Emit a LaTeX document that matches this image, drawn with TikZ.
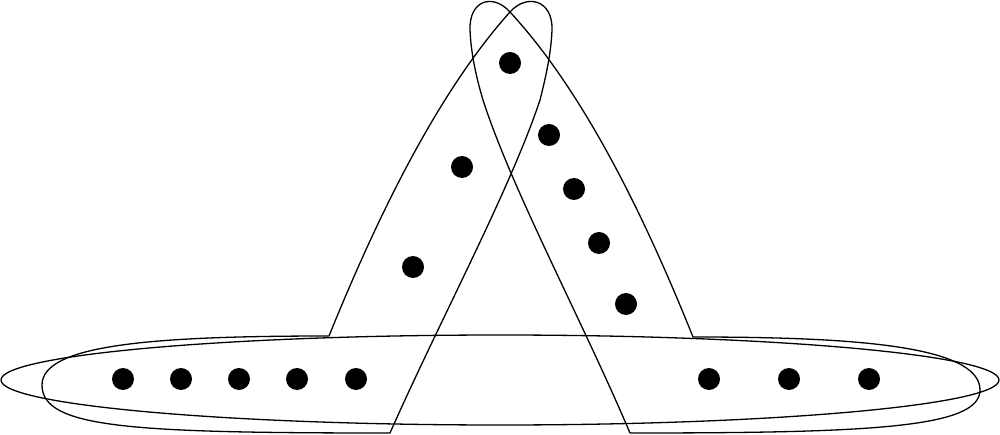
\documentclass[tikz,border=0pt]{standalone}
\begin{document}
\begin{tikzpicture}[x=1pt,y=-1pt,
  edgeline/.style={draw=black,line width=1.3pt,line join=round},
  vtx/.style={circle,fill=black,minimum size=22pt,inner sep=0pt}]
\useasboundingbox (0,0) rectangle (1000,435);
% vertices
\node[vtx] (b1) at (123,379) {};
\node[vtx] (b2) at (181,379) {};
\node[vtx] (b3) at (239,379) {};
\node[vtx] (b4) at (297,379) {};
\node[vtx] (b5) at (356,379) {};
\node[vtx] (b6) at (709,379) {};
\node[vtx] (b7) at (789,379) {};
\node[vtx] (b8) at (869,379) {};
\node[vtx] (l1) at (413,267) {};
\node[vtx] (l2) at (462,167) {};
\node[vtx] (l3) at (510,63) {};
\node[vtx] (r1) at (549,135) {};
\node[vtx] (r2) at (574,189) {};
\node[vtx] (r3) at (599,243) {};
\node[vtx] (r4) at (626,304) {};
% thin ellipse round the bottom row
\draw[edgeline] (500,380) ellipse [x radius=499, y radius=45];
% left hyperedge
\draw[edgeline] (329,336) .. controls (150,336) and (42,345) .. (42,385)
  .. controls (42,428) and (130,433) .. (390,433)
  .. controls (440,320) and (510,190) .. (540,100)
  .. controls (545,80) and (551,55) .. (552,30)
  .. controls (553,0) and (527,-7) .. (510,12)
  .. controls (440,90) and (380,210) .. (329,336) -- cycle;
% right hyperedge
\draw[edgeline] (693,337) .. controls (850,337) and (980,345) .. (980,390)
  .. controls (980,428) and (870,433) .. (630,433)
  .. controls (582,320) and (512,190) .. (483,100)
  .. controls (477,80) and (471,55) .. (470,30)
  .. controls (469,0) and (493,-7) .. (510,12)
  .. controls (582,90) and (642,210) .. (693,337) -- cycle;
\end{tikzpicture}
\end{document}
